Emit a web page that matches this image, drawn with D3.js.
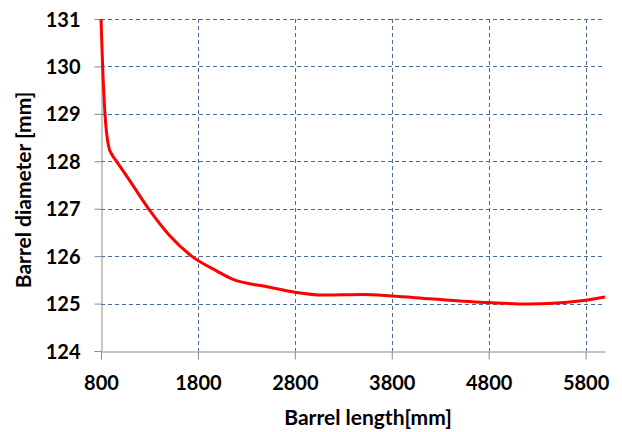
<!DOCTYPE html>
<html>
<head>
<meta charset="utf-8">
<script src="https://cdn.jsdelivr.net/npm/d3@7"></script>
<style>
  body { margin: 0; background: #fff; }
  text { font-family: Lato, "Open Sans", sans-serif; font-weight: bold; fill: #000; }
</style>
</head>
<body>
<div id="chart"></div>
<script>
const lengths = [800, 817, 841, 880, 910, 960, 1100, 1290, 1500, 1735, 2000, 2150, 2525, 2800, 3100, 3500, 3800, 4200, 4800, 5200, 5500, 5800, 6000];
const diameters = [131, 130, 129, 128.3, 128.15, 128.0, 127.58, 127.0, 126.45, 126.0, 125.68, 125.52, 125.35, 125.24, 125.18, 125.19, 125.16, 125.1, 125.02, 124.99, 125.01, 125.07, 125.14];
const xTicks = [800, 1800, 2800, 3800, 4800, 5800];
const yTicks = [124, 125, 126, 127, 128, 129, 130, 131];

const width = 622, height = 432,
      margin = {top: 19, right: 17, bottom: 81, left: 101};

const svg = d3.select("#chart").append("svg")
  .attr("width", width).attr("height", height);

const x = d3.scaleLinear().domain([800, 6000]).range([margin.left, width - margin.right]);
const y = d3.scaleLinear().domain([124, 131]).range([height - margin.bottom, margin.top]);

// grid
svg.append("g").selectAll("line")
  .data(yTicks.filter(d => d > 124))
  .enter().append("line")
    .attr("x1", x(800)).attr("x2", x(6000))
    .attr("y1", d => Math.round(y(d)) + 0.5).attr("y2", d => Math.round(y(d)) + 0.5)
    .attr("stroke", "#4a6b95").attr("stroke-dasharray", "4,3");

svg.append("g").selectAll("line")
  .data(xTicks.filter(d => d > 800))
  .enter().append("line")
    .attr("x1", d => Math.round(x(d)) + 0.5).attr("x2", d => Math.round(x(d)) + 0.5)
    .attr("y1", y(131)).attr("y2", y(124))
    .attr("stroke", "#4a6b95").attr("stroke-dasharray", "4,3");

// axes
const xAxis = svg.append("g")
  .attr("transform", "translate(0," + (Math.round(y(124)) + 0.5) + ")")
  .call(d3.axisBottom(x).tickValues(xTicks).tickFormat(d3.format("d"))
    .tickSize(8).tickSizeOuter(0).tickPadding(16));
const yAxis = svg.append("g")
  .attr("transform", "translate(" + (Math.round(x(800)) + 0.5) + ",0)")
  .call(d3.axisLeft(y).tickValues(yTicks).tickFormat(d3.format("d"))
    .tickSize(7).tickSizeOuter(0).tickPadding(14));

[xAxis, yAxis].forEach(a => {
  a.select(".domain").attr("stroke", "#8c8c8c");
  a.selectAll(".tick line").attr("stroke", "#8c8c8c");
  a.selectAll(".tick text").style("font-size", "20px").attr("font-family", null);
});
xAxis.selectAll(".tick text").attr("dy", "0.71em");
yAxis.selectAll(".tick text").attr("dy", "0.35em");

// curve
const line = d3.line()
  .x((d, i) => x(lengths[i]))
  .y(d => y(d))
  .curve(d3.curveMonotoneX);

svg.append("path")
  .datum(diameters)
  .attr("d", line)
  .attr("fill", "none")
  .attr("stroke", "#ff0000")
  .attr("stroke-width", 3);

// titles
svg.append("text")
  .attr("x", 368).attr("y", 425)
  .attr("text-anchor", "middle")
  .style("font-size", "21px")
  .text("Barrel length[mm]");

svg.append("text")
  .attr("transform", "translate(31,190) rotate(-90)")
  .attr("text-anchor", "middle")
  .style("font-size", "21px")
  .text("Barrel diameter [mm]");
</script>
</body>
</html>
